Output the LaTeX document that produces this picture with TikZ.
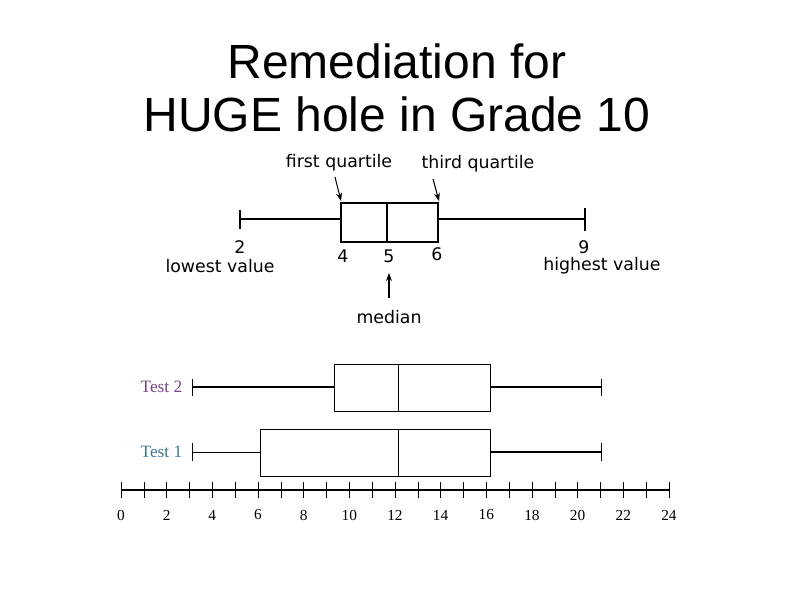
\documentclass[tikz,border=0pt]{standalone}
\usepackage{fontspec}
\setmainfont{Liberation Sans}
\newfontfamily\labelfont{DejaVu Sans}
\newfontfamily\axisfont{Liberation Serif}
\usetikzlibrary{positioning,arrows.meta}
\definecolor{testpurple}{RGB}{120,70,130}
\definecolor{testblue}{RGB}{60,120,150}
\tikzset{
  lbl/.style={font=\labelfont\fontsize{13}{14}\selectfont, inner sep=1pt},
  axlbl/.style={font=\axisfont\fontsize{11.5}{12}\selectfont, inner sep=1pt},
  ptr/.style={-{Stealth[length=6pt]}, line width=0.8pt},
  plotline/.style={line width=1pt}
}
\begin{document}
\begin{tikzpicture}[x=0.75pt, y=-0.75pt]
\useasboundingbox (0,0) rectangle (794,595);
% title
\node[font=\fontsize{36}{40}\selectfont, align=center] (title) at (397,88) {Remediation for\\HUGE hole in Grade 10};

% explanatory box plot
\coordinate (lo) at (240,219);
\coordinate (hi) at (585,219);
\draw[plotline] (lo) -- (341,219);
\draw[plotline] (438,219) -- (hi);
\draw[plotline] (240,210) -- (240,229);
\draw[plotline] (585,208) -- (585,231);
\draw[plotline] (341,203) rectangle (438,242);
\draw[plotline] (387,203) -- (387,242);
\coordinate (q1) at (341,201);
\coordinate (q3) at (439,201);
\coordinate (med) at (389,273);
\node[lbl] (two) at (240,247) {2};
\node[lbl] (lowest) at (220,266) {lowest value};
\node[lbl] (four) at (343,256) {4};
\node[lbl] (five) at (389,256) {5};
\node[lbl] (six) at (437,254) {6};
\node[lbl] (nine) at (584,247) {9};
\node[lbl] (highest) at (602,266) {highest value};
\node[lbl] (median) at (389,317) {median};
\node[lbl] (first) at (339,163) {first quartile};
\node[lbl] (third) at (478,164) {third quartile};
\draw[ptr] (335,177) -- (q1);
\draw[ptr] (433,179) -- (q3);
\draw[ptr] (389,298) -- (med);

% comparison box plots
\draw[plotline] (192,387) -- (334,387);
\draw[plotline] (490,387) -- (601,387);
\draw (192,379) -- (192,396);
\draw (601,379) -- (601,396);
\draw (334,364) rectangle (490,411);
\draw (398,364) -- (398,411);
\node[font=\axisfont\fontsize{13}{14}\selectfont, text=testpurple, anchor=east] (test2) at (187,387) {Test 2};

\draw (192,452) -- (260,452);
\draw[plotline] (490,452) -- (601,452);
\draw (192,443) -- (192,461);
\draw (601,443) -- (601,461);
\draw (260,429) rectangle (490,476);
\draw (398,429) -- (398,476);
\node[font=\axisfont\fontsize{13}{14}\selectfont, text=testblue, anchor=east] (test1) at (187,452) {Test 1};

% axis
\draw[plotline] (121,490) -- (669,490);
\foreach \i in {0,...,24}{
  \draw (121+\i*22.83,482) -- (121+\i*22.83,498);
}
\foreach \i in {0,2,...,24}{
  \node[axlbl] (ax\i) at (121+\i*22.83,515) {\i};
}
\end{tikzpicture}
\end{document}
